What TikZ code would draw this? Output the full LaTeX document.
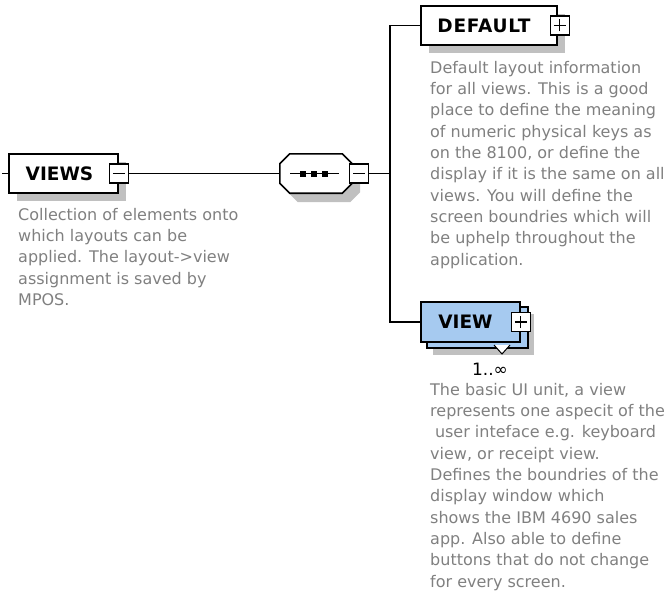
\documentclass[tikz,border=0pt]{standalone}
\usepackage{fontspec}
\setmainfont{DejaVu Sans}
\usetikzlibrary{shadows,calc}
\definecolor{shadowc}{RGB}{192,192,192}
\definecolor{descgray}{RGB}{128,128,128}
\definecolor{viewblue}{RGB}{166,202,240}
\begin{document}
\begin{tikzpicture}[x=1pt,y=-1pt,
  elembox/.style={draw=black, line width=1.6pt, fill=white, inner sep=0pt, minimum height=39pt},
  boxshadow/.style={drop shadow={shadow xshift=8pt,shadow yshift=-8pt,opacity=1,fill=shadowc}},
  elemname/.style={inner sep=0pt, font=\fontsize{18.5}{20}\selectfont\bfseries},
  desc/.style={align=left, inner sep=0pt, text=descgray, font=\fontsize{16}{21.3}\selectfont},
  pmbox/.style={draw=black, line width=1.3pt, fill=white, minimum size=19pt, inner sep=0pt},
  minussign/.style={path picture={\draw[line width=1.3pt]
      ([xshift=-6pt]path picture bounding box.center) -- ([xshift=6pt]path picture bounding box.center);}},
  plussign/.style={path picture={\draw[line width=1.3pt]
      ([xshift=-6pt]path picture bounding box.center) -- ([xshift=6pt]path picture bounding box.center)
      ([yshift=-6pt]path picture bounding box.center) -- ([yshift=6pt]path picture bounding box.center);}},
  wire/.style={draw=black, line width=1.4pt}
]
\useasboundingbox (0,0) rectangle (671,602);

% bus column shared by the children of the sequence
\coordinate (busx) at (390,0);

% ---- VIEWS element ----
\node[elembox, boxshadow, minimum width=109pt] (views) at (63.5,173.5) {};
\node[elemname] (viewsname) at ([xshift=-4pt]views.center) {VIEWS};
\node[pmbox, minussign] (viewsminus) at (views.east) {};
\coordinate (viewsin) at (2,173.5);
\draw[wire] (viewsin) -- (views.west);
\node[desc, anchor=north west] (viewsdesc) at (18,208) {Collection of elements onto\\which layouts can be\\applied. The layout-{>}view\\assignment is saved by\\MPOS.};

% ---- sequence compositor ----
\node[minimum width=72pt, minimum height=39pt, inner sep=0pt] (seq) at (316,173.5) {};
\draw[line width=1.6pt, fill=white, drop shadow={shadow xshift=8pt,shadow yshift=-9pt,opacity=1,fill=shadowc}]
  ($(seq.north west)+(10,0)$) -- ($(seq.north east)+(-10,0)$) -- ($(seq.north east)+(0,10)$)
  -- ($(seq.south east)+(0,-10)$) -- ($(seq.south east)+(-10,0)$) -- ($(seq.south west)+(10,0)$)
  -- ($(seq.south west)+(0,-10)$) -- ($(seq.north west)+(0,10)$) -- cycle;
\draw[line width=1.3pt] ($(seq.center)+(-26,0)$) -- ($(seq.center)+(23,0)$);
\foreach \dx in {-13,-2,9}
  \fill ($(seq.center)+(\dx,0)$) +(-3,-3) rectangle +(3,3);
\node[pmbox, minussign] (seqminus) at ([xshift=43pt]seq.center) {};

\draw[wire] (viewsminus.east) -- (seq.west);
\draw[wire] (seqminus.east) -- (seqminus.east -| busx);

% ---- DEFAULT element ----
\node[elembox, boxshadow, minimum width=136pt] (default) at (489,25.5) {};
\node[elemname] (defaultname) at ([xshift=-5pt]default.center) {\addfontfeatures{LetterSpace=4}DEFAULT};
\node[pmbox, plussign] (defaultplus) at ([xshift=2pt]default.east) {};
\node[desc, anchor=north west] (defaultdesc) at (430,61) {Default layout information\\for all views. This is a good\\place to define the meaning\\of numeric physical keys as\\on the 8100, or define the\\display if it is the same on all\\views. You will define the\\screen boundries which will\\be uphelp throughout the\\application.};

% ---- VIEW element (repeating, drawn as a stack) ----
\node[elembox, fill=viewblue, minimum width=101pt, minimum height=41pt,
      drop shadow={shadow xshift=6pt,shadow yshift=-7pt,opacity=1,fill=shadowc}] (viewback) at (477.5,327.5) {};
\draw[line width=1pt, fill=white] (494,345) -- (502,354) -- (510,345);
\node[elembox, fill=viewblue, minimum width=99pt, minimum height=40pt] (view) at (470.5,322) {};
\node[elemname] (viewname) at ([xshift=-5pt]view.center) {VIEW};
\node[pmbox, plussign] (viewplus) at (view.east) {};
\node[inner sep=0pt, font=\fontsize{17}{19}\selectfont] (viewcard) at (490,369) {1..∞};
\node[desc, anchor=north west] (viewdesc) at (430,383) {The basic UI unit, a view\\represents one aspecit of the\\\hspace*{0.3em}user inteface e.g. keyboard\\view, or receipt view.\\Defines the boundries of the\\display window which\\shows the IBM 4690 sales\\app. Also able to define\\buttons that do not change\\for every screen.};

% ---- wiring from the bus to the children ----
\draw[wire] (default.west) -- (default.west -| busx) -- (view.west -| busx) -- (view.west);
\end{tikzpicture}
\end{document}
